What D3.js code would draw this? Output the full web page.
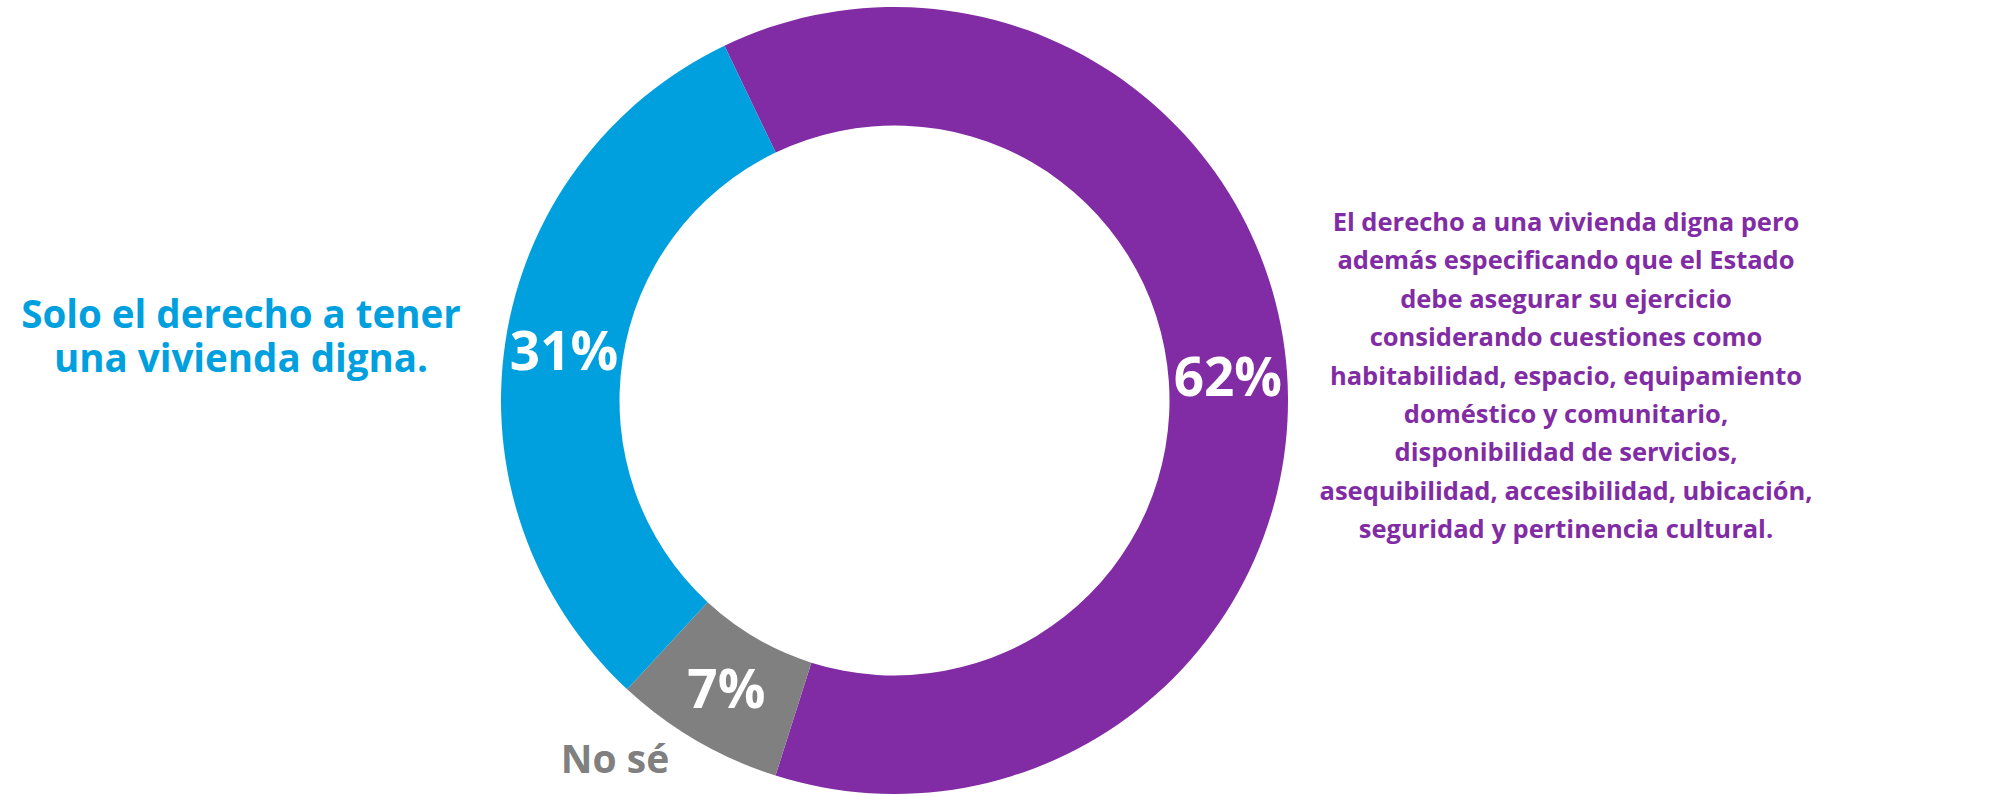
<!DOCTYPE html>
<html>
<head>
<meta charset="utf-8">
<script src="https://cdn.jsdelivr.net/npm/d3@7"></script>
<style>
  html, body { margin: 0; padding: 0; background: #ffffff; }
  svg { display: block; }
  text { font-family: "Open Sans", "Noto Sans", sans-serif; font-weight: 700; }
</style>
</head>
<body>
<svg id="chart" width="1998" height="796"></svg>
<script>
// ---- Data ----
const categories = ["El derecho a una vivienda digna pero además especificando", "No sé", "Solo el derecho a tener una vivienda digna."];
const values = [62, 7, 31];
const valueLabels = ["62%", "7%", "31%"];
const colors = ["#812CA4", "#808080", "#00A0DF"];
const leftLabelLines = ["Solo el derecho a tener", "una vivienda digna."];
const rightLabelLines = [
  "El derecho a una vivienda digna pero",
  "además especificando que el Estado",
  "debe asegurar su ejercicio",
  "considerando cuestiones como",
  "habitabilidad, espacio, equipamiento",
  "doméstico y comunitario,",
  "disponibilidad de servicios,",
  "asequibilidad, accesibilidad, ubicación,",
  "seguridad y pertinencia cultural."
];
const noSeLabel = "No sé";

// ---- Layout ----
const svg = d3.select("#chart");
const cx = 894.5, cy = 400.5;
const outerR = 393.5, innerR = 275;
const startDeg = -25.6;

const pie = d3.pie().sort(null).value(d => d)
  .startAngle(startDeg * Math.PI / 180)
  .endAngle((startDeg + 360) * Math.PI / 180);
const arcs = pie(values);
const arc = d3.arc().innerRadius(innerR).outerRadius(outerR);

const g = svg.append("g").attr("transform", `translate(${cx},${cy})`);
g.selectAll("path").data(arcs).join("path")
  .attr("d", arc)
  .attr("fill", (d, i) => colors[i]);

g.selectAll("text.pct").data(arcs).join("text")
  .attr("class", "pct")
  .attr("transform", d => { const c = arc.centroid(d); return `translate(${c[0]},${c[1]})`; })
  .attr("text-anchor", "middle")
  .attr("dy", "0.36em")
  .attr("fill", "#ffffff")
  .attr("font-size", 53)
  .text((d, i) => valueLabels[i]);

// Left label (blue)
svg.selectAll("text.left").data(leftLabelLines).join("text")
  .attr("class", "left")
  .attr("x", 241)
  .attr("y", (d, i) => 328 + i * 44)
  .attr("text-anchor", "middle")
  .attr("fill", colors[2])
  .attr("font-size", 38.5)
  .text(d => d);

// Right label (purple)
svg.selectAll("text.right").data(rightLabelLines).join("text")
  .attr("class", "right")
  .attr("x", 1566)
  .attr("y", (d, i) => 231 + i * 38.4)
  .attr("text-anchor", "middle")
  .attr("fill", colors[0])
  .attr("font-size", 25.5)
  .text(d => d);

// "No sé" label
svg.append("text")
  .attr("x", 615).attr("y", 773)
  .attr("text-anchor", "middle")
  .attr("fill", colors[1])
  .attr("font-size", 39)
  .text(noSeLabel);
</script>
</body>
</html>
